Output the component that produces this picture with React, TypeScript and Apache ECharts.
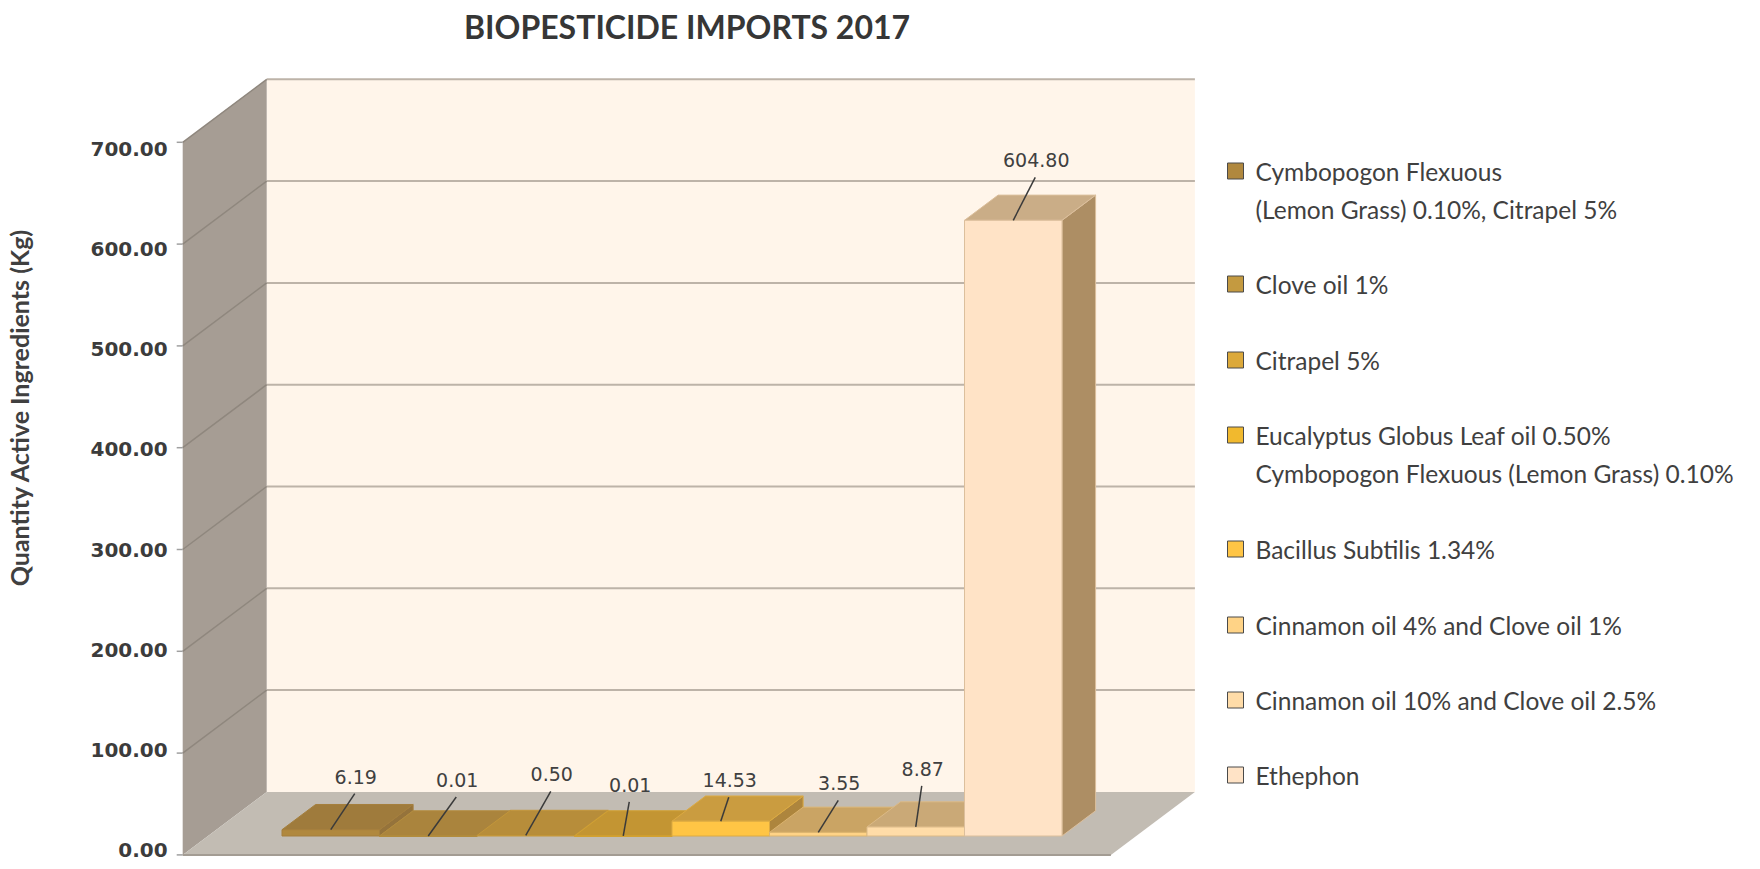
import React, { useEffect, useRef } from "react";
import * as echarts from "echarts";

// ---------- data ----------
const categories: string[] = [
  "Cymbopogon Flexuous\n(Lemon Grass) 0.10%, Citrapel 5%",
  "Clove oil 1%",
  "Citrapel 5%",
  "Eucalyptus Globus Leaf oil 0.50%\nCymbopogon Flexuous (Lemon Grass) 0.10%",
  "Bacillus Subtilis 1.34%",
  "Cinnamon oil 4% and Clove oil 1%",
  "Cinnamon oil 10% and Clove oil 2.5%",
  "Ethephon",
];
const values: number[] = [6.19, 0.01, 0.5, 0.01, 14.53, 3.55, 8.87, 604.8];
const yMin = 0;
const yMax = 700;
const yInterval = 100;
const titleText = "BIOPESTICIDE IMPORTS 2017";
const yAxisName = "Quantity Active Ingredients (Kg)";

// ---------- style ----------
const colors = ["#B0883E", "#C49A40", "#DCA93A", "#F1B92E", "#FFC545", "#FFD386", "#FFDCA8", "#FFE3C6"];
const labelDx = [25, 29, 26, 7, 9, 21, 7, 23];
const labelDy = [-53, -56, -61, -51, -41, -49, -58, -60];
const legendCenters = [171, 284, 360, 435, 549, 625, 700, 775];

const DEPTH = { x: 84, y: -63 }; // full floor depth vector
const BAR_FRONT = 0.3; // bars' front plane depth fraction
const BAR_BACK = 0.7;
const MARGIN_BANDS = 0.76; // floor margin beyond the bars, in category bands
const GRID = { left: 282, top: 123.4, width: 780, height: 712.6 };
const LABEL_GRID = { top: 149.3, height: 700.4 };

function hexToRgb(h: string) {
  const n = parseInt(h.slice(1), 16);
  return [(n >> 16) & 255, (n >> 8) & 255, n & 255];
}
function mix(a: string, b: string, t: number) {
  const A = hexToRgb(a), B = hexToRgb(b);
  const c = A.map((v, i) => Math.round(v * (1 - t) + B[i] * t));
  return `rgb(${c[0]},${c[1]},${c[2]})`;
}
const SHADE = "#8A6A3A";

function wallRender(params: any, api: any) {
  const band = api.size([1, 0])[0];
  const c0 = api.coord([0, yMin]);
  const cN = api.coord([categories.length - 1, yMin]);
  const xL = c0[0] - band / 2 - band * MARGIN_BANDS;
  const xR = cN[0] + band / 2 + band * MARGIN_BANDS;
  const y0 = c0[1];
  const yTop = api.coord([0, yMax])[1];
  const fx = -BAR_FRONT * DEPTH.x, fy = -BAR_FRONT * DEPTH.y;
  const bx = (1 - BAR_FRONT) * DEPTH.x, by = (1 - BAR_FRONT) * DEPTH.y;
  const F = (x: number, y: number) => [x + fx, y + fy];
  const B = (x: number, y: number) => [x + bx, y + by];
  const children: any[] = [];
  children.push({
    type: "polygon",
    shape: { points: [B(xL, yTop), B(xR, yTop), B(xR, y0), B(xL, y0)] },
    style: { fill: "#FFF5EA" },
  });
  children.push({
    type: "polygon",
    shape: { points: [F(xL, yTop), B(xL, yTop), B(xL, y0), F(xL, y0)] },
    style: { fill: "#A69D94" },
  });
  children.push({
    type: "polygon",
    shape: { points: [F(xL, y0), F(xR, y0), B(xR, y0), B(xL, y0)] },
    style: { fill: "#C2BCB3" },
  });
  for (let v = yMin; v <= yMax; v += yInterval) {
    const y = api.coord([0, v])[1];
    const b1 = B(xL, y), b2 = B(xR, y), f1 = F(xL, y);
    if (v > yMin) {
      children.push({
        type: "line",
        shape: { x1: b1[0], y1: b1[1], x2: b2[0], y2: b2[1] },
        style: { stroke: "#BDB3A8", lineWidth: 2 },
      });
      children.push({
        type: "line",
        shape: { x1: f1[0], y1: f1[1], x2: b1[0], y2: b1[1] },
        style: { stroke: "#8F877E", lineWidth: 1.5 },
      });
    }
    children.push({
      type: "line",
      shape: { x1: f1[0] - 6, y1: f1[1], x2: f1[0], y2: f1[1] },
      style: { stroke: "#A0A0A0", lineWidth: 1.5 },
    });
  }
  const e1 = F(xL, y0), e2 = F(xR, y0);
  children.push({
    type: "line",
    shape: { x1: e1[0], y1: e1[1], x2: e2[0], y2: e2[1] },
    style: { stroke: "#A39C93", lineWidth: 2 },
  });
  return { type: "group", children };
}

function barRender(i: number) {
  return (params: any, api: any) => {
    const cat = api.value(0);
    const v = api.value(1);
    const base = api.coord([cat, yMin]);
    const top = api.coord([cat, v]);
    const band = api.size([1, 0])[0];
    const x0 = base[0] - band / 2;
    const x1 = base[0] + band / 2;
    const yb = base[1];
    const yt = top[1];
    const dx = (BAR_BACK - BAR_FRONT) * DEPTH.x;
    const dy = (BAR_BACK - BAR_FRONT) * DEPTH.y;
    const c = colors[i];
    const stroke = mix(c, SHADE, 0.3);
    const cx = base[0];
    const lx = cx + labelDx[i];
    const ly = yt + labelDy[i];
    return {
      type: "group",
      children: [
        {
          type: "polygon",
          shape: { points: [[x1, yt], [x1 + dx, yt + dy], [x1 + dx, yb + dy], [x1, yb]] },
          style: { fill: mix(c, SHADE, 0.7), stroke, lineWidth: 1 },
        },
        {
          type: "polygon",
          shape: { points: [[x0, yt], [x1, yt], [x1 + dx, yt + dy], [x0 + dx, yt + dy]] },
          style: { fill: mix(c, SHADE, 0.45), stroke, lineWidth: 1 },
        },
        {
          type: "rect",
          shape: { x: x0, y: yt, width: band, height: Math.max(yb - yt, 0.5) },
          style: { fill: c, stroke, lineWidth: 1 },
        },
        {
          type: "line",
          shape: { x1: cx, y1: yt, x2: lx - 1, y2: ly + 17 },
          style: { stroke: "#3A3A3A", lineWidth: 1.5 },
          z2: 10,
        },
        {
          type: "text",
          x: lx,
          y: ly,
          style: {
            text: values[i].toFixed(2),
            fontFamily: "DejaVu Sans",
            fontSize: 19,
            fill: "#404040",
            align: "center",
            verticalAlign: "middle",
          },
          z2: 10,
        },
      ],
    };
  };
}

export default function App() {
  const ref = useRef<HTMLDivElement>(null);
  useEffect(() => {
    document.body.style.margin = "0";
    const chart = echarts.init(ref.current!, undefined, { renderer: "svg" });
    const axisBandLeft = GRID.left - (GRID.width / categories.length) * MARGIN_BANDS - BAR_FRONT * DEPTH.x;
    const option: any = {
      animation: false,
      backgroundColor: "#FFFFFF",
      title: {
        text: titleText,
        left: 464,
        top: 10,
        padding: 0,
        textStyle: { fontFamily: "Lato", fontWeight: "bold", fontSize: 32, color: "#363636" },
      },
      grid: [
        { left: GRID.left, top: GRID.top, width: GRID.width, height: GRID.height },
        { left: axisBandLeft, top: LABEL_GRID.top, width: 1, height: LABEL_GRID.height },
      ],
      xAxis: [
        { type: "category", gridIndex: 0, data: categories, show: false },
        { type: "value", gridIndex: 1, show: false },
      ],
      yAxis: [
        { type: "value", gridIndex: 0, min: yMin, max: yMax, interval: yInterval, show: false },
        {
          type: "value",
          gridIndex: 1,
          min: yMin,
          max: yMax,
          interval: yInterval,
          axisLine: { show: false },
          splitLine: { show: false },
          axisTick: { show: false },
          axisLabel: {
            formatter: (v: number) => v.toFixed(2),
            fontFamily: "DejaVu Sans",
            fontWeight: "bold",
            fontSize: 20,
            color: "#3C3C3C",
            margin: 15,
          },
        },
      ],
      legend: categories.map((name, i) => {
        const two = name.includes("\n");
        return {
          data: [name],
          orient: "vertical",
          left: 1227,
          top: legendCenters[i] - (two ? 57 : 19),
          padding: 0,
          itemWidth: 16,
          itemHeight: 16,
          icon: "rect",
          selectedMode: false,
          formatter: two ? (n: string) => " \n" + n : undefined,
          itemStyle: { borderColor: "#4A4A4A", borderWidth: 1 },
          textStyle: {
            fontFamily: "Lato",
            fontSize: 24.5,
            color: "#404040",
            lineHeight: 38,
            padding: [0, 0, 0, 7],
          },
        };
      }),
      graphic: [
        {
          type: "text",
          x: 19,
          y: 408,
          rotation: Math.PI / 2,
          style: {
            text: yAxisName,
            fontFamily: "Lato",
            fontWeight: "bold",
            fontSize: 25,
            fill: "#404040",
            align: "center",
            verticalAlign: "middle",
          },
        },
      ],
      series: [
        {
          type: "custom",
          name: "walls",
          xAxisIndex: 0,
          yAxisIndex: 0,
          data: [[0, 0]],
          renderItem: wallRender,
          silent: true,
          z: 1,
        },
        ...categories.map((name, i) => ({
          type: "custom",
          name,
          xAxisIndex: 0,
          yAxisIndex: 0,
          itemStyle: { color: colors[i] },
          data: [[i, values[i]]],
          encode: { x: 0, y: 1 },
          renderItem: barRender(i),
          z: 2,
        })),
      ],
    };
    chart.setOption(option);
    return () => chart.dispose();
  }, []);
  return <div ref={ref} style={{ width: 1760, height: 869 }} />;
}
